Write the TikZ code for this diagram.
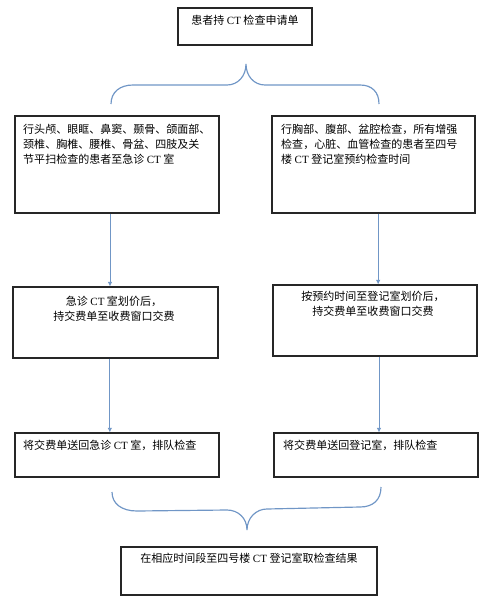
\documentclass[tikz,border=0pt]{standalone}
\usepackage{fontspec}
\setmainfont{Liberation Serif}
\newfontfamily\cjk{Noto Sans CJK SC}
\usetikzlibrary{arrows.meta}
\definecolor{lineblue}{RGB}{112,150,198}
\tikzset{
  box/.style={draw=black!85, line width=0.9pt, inner sep=0pt},
  txt/.style={font=\cjk\fontsize{9.4}{13.2}\selectfont, inner sep=0pt},
  flow/.style={-{Latex[length=4pt, width=4pt]}, draw=lineblue, line width=0.8pt},
  brace/.style={draw=lineblue, line width=1pt}
}
\newcommand{\ct}{{\rmfamily CT}}

\begin{document}
\begin{tikzpicture}[x=0.03cm, y=-0.03cm]
        \useasboundingbox (0,0) rectangle (498,609);
        % boxes
        \node[box, minimum width=4.02cm, minimum height=1.11cm] (req) at (245,26.5) {};
        \node[box, minimum width=6.12cm, minimum height=2.91cm] (lcheck) at (117,164.5) {};
        \node[box, minimum width=6.09cm, minimum height=2.91cm] (rcheck) at (373.5,164.5) {};
        \node[box, minimum width=6.15cm, minimum height=2.13cm] (lprice) at (115.5,322.5) {};
        \node[box, minimum width=6.12cm, minimum height=2.13cm] (rprice) at (375,320.5) {};
        \node[box, minimum width=6.12cm, minimum height=1.32cm] (lqueue) at (117,455) {};
        \node[box, minimum width=6.12cm, minimum height=1.32cm] (rqueue) at (376,455) {};
        \node[box, minimum width=7.68cm, minimum height=1.44cm] (result) at (249,571) {};
        % texts
        \node[txt, anchor=north] (reqtxt) at (245,14.5) {患者持 \ct{} 检查申请单};
        \node[txt, anchor=north west, align=left] (lchecktxt) at (23,123.5)
          {行头颅、眼眶、鼻窦、颞骨、颌面部、\\颈椎、胸椎、腰椎、骨盆、四肢及关\\节平扫检查的患者至急诊 \ct{} 室};
        \node[txt, anchor=north west, align=left] (rchecktxt) at (281,123.5)
          {行胸部、腹部、盆腔检查，所有增强\\检查，心脏、血管检查的患者至四号\\楼 \ct{} 登记室预约检查时间};
        \node[txt, anchor=north, align=center] (lpricetxt) at (114,295.5)
          {急诊 \ct{} 室划价后，\\持交费单至收费窗口交费};
        \node[txt, anchor=north, align=center] (rpricetxt) at (373,290.5)
          {按预约时间至登记室划价后，\\持交费单至收费窗口交费};
        \node[txt, anchor=north west] (lqueuetxt) at (23,439.5) {将交费单送回急诊 \ct{} 室，排队检查};
        \node[txt, anchor=north west] (rqueuetxt) at (283,439.5) {将交费单送回登记室，排队检查};
        \node[txt, anchor=north] (resulttxt) at (249,552.5) {在相应时间段至四号楼 \ct{} 登记室取检查结果};
        % arrows
        \draw[flow] ([xshift=-0.21cm]lcheck.south) -- ([xshift=-0.21cm]lcheck.south |- lprice.north);
        \draw[flow] ([xshift=0.14cm]rcheck.south) -- ([xshift=0.14cm]rcheck.south |- rprice.north);
        \draw[flow] ([xshift=-0.17cm]lprice.south) -- ([xshift=-0.17cm]lprice.south |- lqueue.north);
        \draw[flow] ([xshift=0.12cm]rprice.south) -- ([xshift=0.12cm]rprice.south |- rqueue.north);
        % braces
        \draw[brace] (111,104) .. controls (111,92) and (120,85) .. (133,85) -- (227,85)
          .. controls (238,85) and (246,76) .. (246,64)
          .. controls (246,76) and (254,85) .. (265,85) -- (360,85)
          .. controls (372,85) and (379,92) .. (379,104);
        \draw[brace] (112,492) .. controls (112,504) and (122,511) .. (137,511) -- (227,510)
          .. controls (238,510) and (247,518) .. (247,530)
          .. controls (247,518) and (256,509) .. (267,509) -- (360,507)
          .. controls (373,507) and (381,500) .. (381,487);
      \end{tikzpicture}
\end{document}
